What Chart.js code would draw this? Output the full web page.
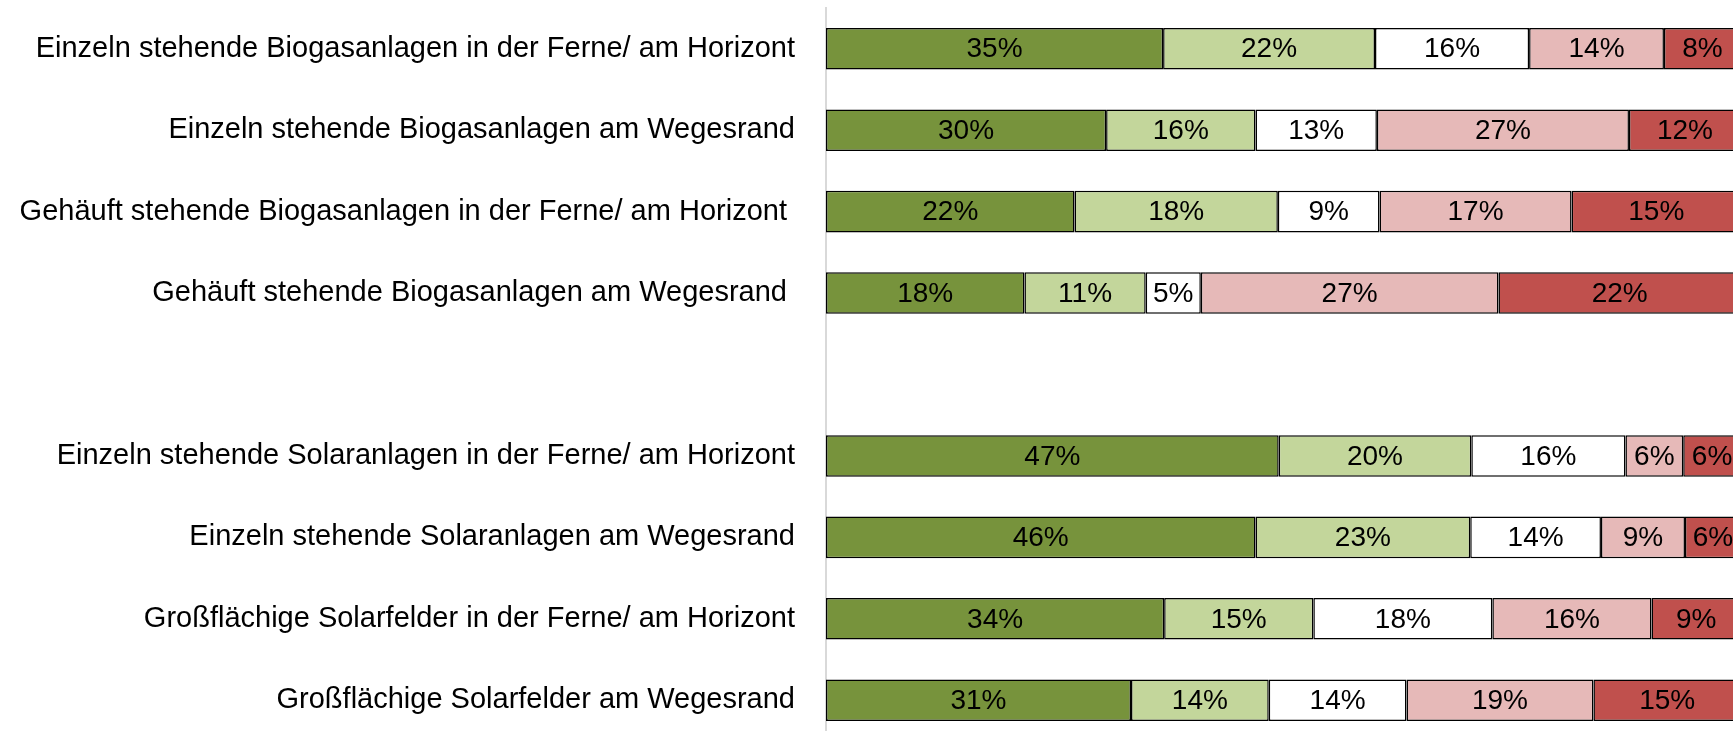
<!DOCTYPE html>
<html lang="de">
  <head>
    <meta charset="UTF-8" />
    <title>Biogas- und Solaranlagen</title>
    <script src="https://cdn.jsdelivr.net/npm/chart.js"></script>
    <style>
      html,
      body {
        margin: 0;
        padding: 0;
        background: #ffffff;
        overflow: hidden;
      }
      #chart {
        display: block;
      }
    </style>
  </head>
  <body>
    <canvas id="chart" width="1741" height="741"></canvas>

    <script>
      // categories (the empty one is the gap between the two groups)
      const categories = [
        "Einzeln stehende Biogasanlagen in der Ferne/ am Horizont",
        "Einzeln stehende Biogasanlagen am Wegesrand",
        "Gehäuft stehende Biogasanlagen in der Ferne/ am Horizont ",
        "Gehäuft stehende Biogasanlagen am Wegesrand ",
        "",
        "Einzeln stehende Solaranlagen in der Ferne/ am Horizont",
        "Einzeln stehende Solaranlagen am Wegesrand",
        "Großflächige Solarfelder in der Ferne/ am Horizont",
        "Großflächige Solarfelder am Wegesrand",
      ];

      // answer shares in percent, one array per answer level
      const sehrPositiv = [35, 30, 22, 18, null, 47, 46, 34, 31];
      const eherPositiv = [22, 16, 18, 11, null, 20, 23, 15, 14];
      const neutral = [16, 13, 9, 5, null, 16, 14, 18, 14];
      const eherNegativ = [14, 27, 17, 27, null, 6, 9, 16, 19];
      const sehrNegativ = [8, 12, 15, 22, null, 6, 6, 9, 15];

      const seriesNames = ["sehr positiv", "eher positiv", "neutral", "eher negativ", "sehr negativ"];
      const series = [sehrPositiv, eherPositiv, neutral, eherNegativ, sehrNegativ];
      const colors = ["#77933C", "#C3D69B", "#FFFFFF", "#E6B9B8", "#C0504D"];

      const FONT = "Liberation Sans, Arial, sans-serif";

      // 100% stacked: each bar is scaled to its row total
      const rowTotals = categories.map((c, i) =>
        series.reduce((s, arr) => s + (arr[i] || 0), 0)
      );

      const datasets = series.map((arr, k) => ({
        label: seriesNames[k],
        raw: arr,
        data: arr.map((v, i) => (v == null ? null : (v / rowTotals[i]) * 100)),
        backgroundColor: colors[k],
        borderColor: "#000000",
        borderWidth: 1.5,
        borderSkipped: false,
        categoryPercentage: 1,
        barPercentage: 0.51,
      }));

      // draws "35%" etc. in the middle of each bar piece
      const barLabels = {
        id: "barLabels",
        afterDatasetsDraw(chart) {
          const ctx = chart.ctx;
          ctx.save();
          ctx.font = "28px " + FONT;
          ctx.fillStyle = "#000000";
          ctx.textAlign = "center";
          ctx.textBaseline = "middle";
          chart.data.datasets.forEach((ds, k) => {
            const meta = chart.getDatasetMeta(k);
            meta.data.forEach((bar, i) => {
              const v = ds.raw[i];
              if (v == null) return;
              ctx.fillText(v + "%", (bar.x + bar.base) / 2, bar.y + 1);
            });
          });
          ctx.restore();
        },
      };

      new Chart(document.getElementById("chart"), {
        type: "bar",
        data: { labels: categories, datasets: datasets },
        plugins: [barLabels],
        options: {
          indexAxis: "y",
          responsive: false,
          animation: false,
          layout: { padding: { top: 8, left: 0, right: 0, bottom: 0 } },
          plugins: {
            legend: { display: false },
            tooltip: { enabled: false },
          },
          scales: {
            x: {
              stacked: true,
              display: false,
              min: 0,
              max: 100,
            },
            y: {
              stacked: true,
              afterFit(scale) {
                scale.width = 826;
                scale.paddingTop = 0;
                scale.paddingBottom = 0;
              },
              grid: { display: false, drawTicks: false },
              border: { display: true, color: "#D9D9D9", width: 2 },
              ticks: {
                padding: 31,
                color: "#000000",
                font: { family: FONT, size: 29 },
              },
            },
          },
        },
      });
    </script>
  </body>
</html>
